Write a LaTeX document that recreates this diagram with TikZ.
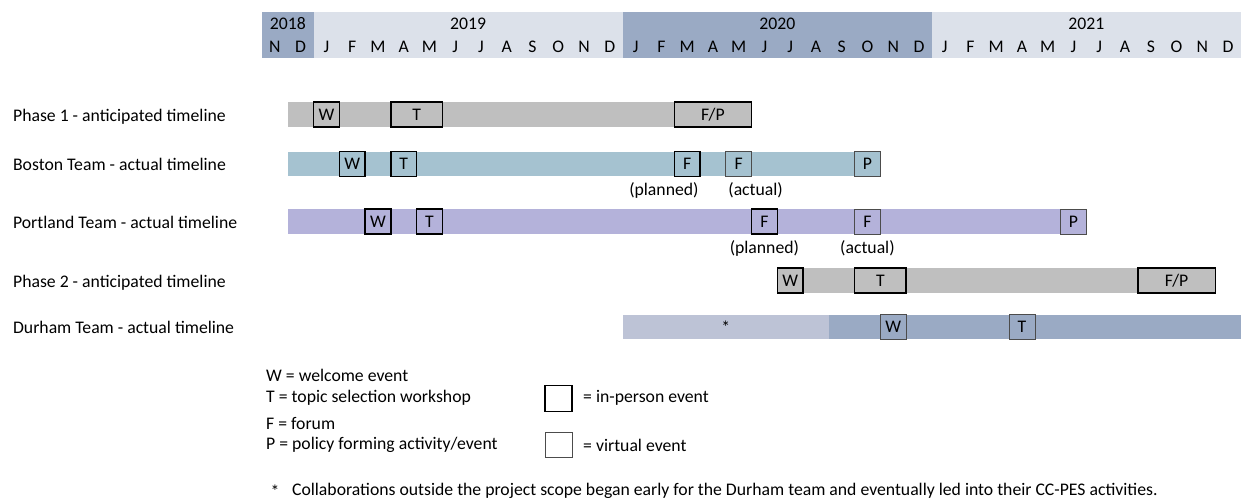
\documentclass[tikz,border=0pt]{standalone}
\usepackage{fontspec}
\setmainfont{Carlito}
\usetikzlibrary{positioning}

\definecolor{yeardark}{RGB}{154,170,196}
\definecolor{yearlight}{RGB}{220,225,234}
\definecolor{phasegrey}{RGB}{191,191,191}
\definecolor{bostonblue}{RGB}{165,194,208}
\definecolor{portlandlilac}{RGB}{180,178,218}
\definecolor{durhamlight}{RGB}{189,195,214}
\definecolor{durhamdark}{RGB}{154,170,196}

\tikzset{
	every node/.style={font=\fontsize{17.7}{20}\selectfont},
	months/.style={minimum width=#1*25.76pt},
	inperson/.style={draw=black,line width=1.4pt,inner sep=0pt,minimum height=25pt},
	virtual/.style={draw=black!70,line width=.8pt,inner sep=0pt,minimum height=25pt},
	rowlabel/.style={anchor=base west,inner sep=0pt},
	keytext/.style={anchor=west,inner sep=0pt},
}

\begin{document}
\begin{tikzpicture}[x=25.76pt,y=-1pt]
	\useasboundingbox (-10.171,0) rectangle (38,500);

	% calendar header
	\fill[yeardark] (0,12) rectangle (2,58);
	\fill[yearlight] (2,12) rectangle (14,58);
	\fill[yeardark] (14,12) rectangle (26,58);
	\fill[yearlight] (26,12) rectangle (38,58);
	\node (y2018) at (1,24) {2018};
	\node (y2019) at (8,24) {2019};
	\node (y2020) at (20,24) {2020};
	\node (y2021) at (32,24) {2021};
	\foreach \m [count=\i from 0] in {N,D,J,F,M,A,M,J,J,A,S,O,N,D,J,F,M,A,M,J,J,A,S,O,N,D,J,F,M,A,M,J,J,A,S,O,N,D}
		\node (mon\i) at (\i+.5,47) {\m};

	% row labels
	\node[rowlabel] (lab-p1) at (-9.67,121) {Phase 1 - anticipated timeline};
	\node[rowlabel] (lab-bos) at (-9.67,170.5) {Boston Team - actual timeline};
	\node[rowlabel] (lab-por) at (-9.67,228) {Portland Team - actual timeline};
	\node[rowlabel] (lab-p2) at (-9.67,287) {Phase 2 - anticipated timeline};
	\node[rowlabel] (lab-dur) at (-9.67,333.5) {Durham Team - actual timeline};

	% Phase 1
	\fill[phasegrey] (1,102) rectangle (19,127);
	\node[inperson,months=1,fill=phasegrey] (p1-w) at (2.5,114.5) {W};
	\node[inperson,months=2,fill=phasegrey] (p1-t) at (6,114.5) {T};
	\node[inperson,months=3,fill=phasegrey] (p1-fp) at (17.5,114.5) {F/P};

	% Boston
	\fill[bostonblue] (1,152) rectangle (24,176);
	\node[inperson,months=1,fill=bostonblue] (bos-w) at (3.5,164) {W};
	\node[inperson,months=1,fill=bostonblue] (bos-t) at (5.5,164) {T};
	\node[inperson,months=1,fill=bostonblue] (bos-f1) at (16.5,164) {F};
	\node[virtual,months=1,fill=bostonblue] (bos-f2) at (18.5,164) {F};
	\node[virtual,months=1,fill=bostonblue] (bos-p) at (23.5,164) {P};
	\node (bos-plan) at (15.6,190) {(planned)};
	\node (bos-act) at (19.16,190) {(actual)};

	% Portland
	\fill[portlandlilac] (1,209) rectangle (32,234);
	\node[inperson,months=1,fill=portlandlilac] (por-w) at (4.5,221.5) {W};
	\node[inperson,months=1,fill=portlandlilac] (por-t) at (6.5,221.5) {T};
	\node[inperson,months=1,fill=portlandlilac] (por-f1) at (19.5,221.5) {F};
	\node[virtual,months=1,fill=portlandlilac] (por-f2) at (23.5,221.5) {F};
	\node[virtual,months=1,fill=portlandlilac] (por-p) at (31.5,221.5) {P};
	\node (por-plan) at (19.5,248) {(planned)};
	\node (por-act) at (23.5,248) {(actual)};

	% Phase 2
	\fill[phasegrey] (20,268) rectangle (37,293);
	\node[inperson,months=1,fill=phasegrey] (p2-w) at (20.5,280.5) {W};
	\node[inperson,months=2,fill=phasegrey] (p2-t) at (24,280.5) {T};
	\node[inperson,months=3,fill=phasegrey] (p2-fp) at (35.5,280.5) {F/P};

	% Durham
	\fill[durhamlight] (14,315) rectangle (22,339);
	\fill[durhamdark] (22,315) rectangle (38,339);
	\node (dur-star) at (18,327) {*};
	\node[virtual,months=1,fill=durhamdark] (dur-w) at (24.5,327) {W};
	\node[virtual,months=1,fill=durhamdark] (dur-t) at (29.5,327) {T};

	% key
	\node[keytext] (key-w) at (.155,375) {W = welcome event};
	\node[keytext] (key-t) at (.155,398) {T = topic selection workshop};
	\node[keytext] (key-f) at (.155,423) {F = forum};
	\node[keytext] (key-p) at (.155,445) {P = policy forming activity/event};
	\node[inperson,minimum width=27pt,minimum height=26pt] (key-box1) at (11.51,398.5) {};
	\node[virtual,minimum width=27pt,minimum height=25pt] (key-box2) at (11.51,444.5) {};
	\node[keytext] (key-in) at (12.46,398) {= in-person event};
	\node[keytext] (key-virt) at (12.46,445) {= virtual event};

	% footnote
	\node (note-star) at (.5,491) {*};
	\node[keytext] (note) at (1.16,491) {Collaborations outside the project scope began early for the Durham team and eventually led into their CC-PES activities.};
\end{tikzpicture}
\end{document}
